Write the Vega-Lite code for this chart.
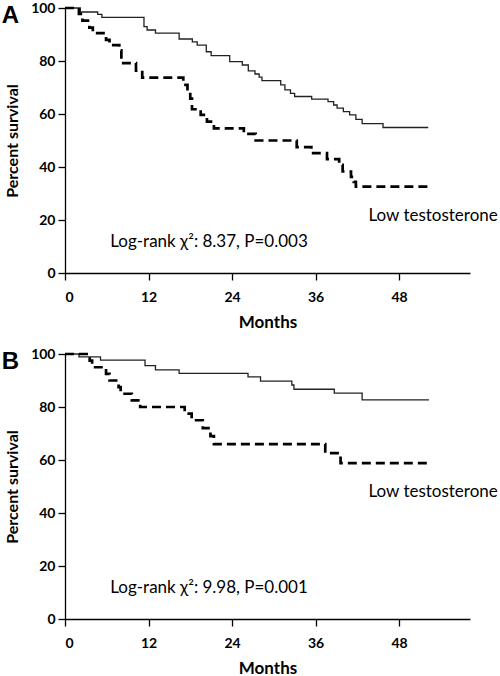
{
  "$schema": "https://vega.github.io/schema/vega-lite/v6.json",
  "padding": {"top": 1, "left": 1, "right": 0, "bottom": 0},
  "spacing": 17,
  "config": {
    "view": {"stroke": null},
    "font": "Lato",
    "axis": {
      "grid": false,
      "domainColor": "#000",
      "domainWidth": 1.3,
      "tickColor": "#000",
      "tickWidth": 1.3,
      "tickSize": 7,
      "labelColor": "#000",
      "labelFont": "Lato",
      "labelFontWeight": "bold",
      "labelFontSize": 14,
      "titleColor": "#000",
      "titleFont": "Lato",
      "titleFontWeight": "bold",
      "titleFontSize": 16
    },
    "title": {"anchor": "start", "frame": "bounds", "fontSize": 24, "fontWeight": "bold", "font": "Liberation Sans", "color": "#000", "baseline": "alphabetic", "offset": -27, "dx": -3}
  },
  "datasets": {
    "km": [
      {"panel": "A", "group": "Normal", "month": 0, "survival": 100},
      {"panel": "A", "group": "Normal", "month": 2.2, "survival": 98.5},
      {"panel": "A", "group": "Normal", "month": 4.7, "survival": 97.6},
      {"panel": "A", "group": "Normal", "month": 5.3, "survival": 96.5},
      {"panel": "A", "group": "Normal", "month": 11.35, "survival": 93.0},
      {"panel": "A", "group": "Normal", "month": 11.8, "survival": 91.7},
      {"panel": "A", "group": "Normal", "month": 13.0, "survival": 90.5},
      {"panel": "A", "group": "Normal", "month": 16.4, "survival": 88.3},
      {"panel": "A", "group": "Normal", "month": 18.3, "survival": 87.2},
      {"panel": "A", "group": "Normal", "month": 19.0, "survival": 86.0},
      {"panel": "A", "group": "Normal", "month": 20.3, "survival": 83.5},
      {"panel": "A", "group": "Normal", "month": 21.0, "survival": 82.0},
      {"panel": "A", "group": "Normal", "month": 23.67, "survival": 79.8},
      {"panel": "A", "group": "Normal", "month": 25.48, "survival": 78.5},
      {"panel": "A", "group": "Normal", "month": 26.34, "survival": 76.3},
      {"panel": "A", "group": "Normal", "month": 27.3, "survival": 75.1},
      {"panel": "A", "group": "Normal", "month": 27.9, "survival": 73.9},
      {"panel": "A", "group": "Normal", "month": 28.3, "survival": 72.6},
      {"panel": "A", "group": "Normal", "month": 31.0, "survival": 71.0},
      {"panel": "A", "group": "Normal", "month": 31.6, "survival": 69.1},
      {"panel": "A", "group": "Normal", "month": 32.4, "survival": 67.8},
      {"panel": "A", "group": "Normal", "month": 33.0, "survival": 66.6},
      {"panel": "A", "group": "Normal", "month": 35.45, "survival": 65.6},
      {"panel": "A", "group": "Normal", "month": 37.8, "survival": 64.7},
      {"panel": "A", "group": "Normal", "month": 38.6, "survival": 63.4},
      {"panel": "A", "group": "Normal", "month": 39.1, "survival": 62.2},
      {"panel": "A", "group": "Normal", "month": 40.0, "survival": 60.9},
      {"panel": "A", "group": "Normal", "month": 40.9, "survival": 59.7},
      {"panel": "A", "group": "Normal", "month": 41.8, "survival": 58.0},
      {"panel": "A", "group": "Normal", "month": 42.7, "survival": 56.4},
      {"panel": "A", "group": "Normal", "month": 45.7, "survival": 54.9},
      {"panel": "A", "group": "Normal", "month": 52.2, "survival": 54.9},
      {"panel": "A", "group": "Low", "month": 0, "survival": 100},
      {"panel": "A", "group": "Low", "month": 2.0, "survival": 97.8},
      {"panel": "A", "group": "Low", "month": 2.5, "survival": 95.2},
      {"panel": "A", "group": "Low", "month": 3.5, "survival": 92.6},
      {"panel": "A", "group": "Low", "month": 4.0, "survival": 90.5},
      {"panel": "A", "group": "Low", "month": 5.9, "survival": 88.0},
      {"panel": "A", "group": "Low", "month": 6.4, "survival": 86.0},
      {"panel": "A", "group": "Low", "month": 7.8, "survival": 84.0},
      {"panel": "A", "group": "Low", "month": 8.1, "survival": 79.2},
      {"panel": "A", "group": "Low", "month": 10.2, "survival": 76.4},
      {"panel": "A", "group": "Low", "month": 11.1, "survival": 73.7},
      {"panel": "A", "group": "Low", "month": 17.0, "survival": 71.0},
      {"panel": "A", "group": "Low", "month": 17.6, "survival": 68.4},
      {"panel": "A", "group": "Low", "month": 18.0, "survival": 65.8},
      {"panel": "A", "group": "Low", "month": 18.25, "survival": 61.8},
      {"panel": "A", "group": "Low", "month": 19.5, "survival": 59.7},
      {"panel": "A", "group": "Low", "month": 20.4, "survival": 57.1},
      {"panel": "A", "group": "Low", "month": 21.4, "survival": 54.6},
      {"panel": "A", "group": "Low", "month": 25.7, "survival": 52.5},
      {"panel": "A", "group": "Low", "month": 27.4, "survival": 50.0},
      {"panel": "A", "group": "Low", "month": 33.3, "survival": 47.5},
      {"panel": "A", "group": "Low", "month": 35.4, "survival": 45.2},
      {"panel": "A", "group": "Low", "month": 37.65, "survival": 43.0},
      {"panel": "A", "group": "Low", "month": 39.4, "survival": 40.8},
      {"panel": "A", "group": "Low", "month": 39.9, "survival": 38.3},
      {"panel": "A", "group": "Low", "month": 41.1, "survival": 36.3},
      {"panel": "A", "group": "Low", "month": 41.5, "survival": 34.4},
      {"panel": "A", "group": "Low", "month": 41.8, "survival": 32.6},
      {"panel": "A", "group": "Low", "month": 52.3, "survival": 32.6},
      {"panel": "B", "group": "Normal", "month": 0, "survival": 100},
      {"panel": "B", "group": "Normal", "month": 2.0, "survival": 98.9},
      {"panel": "B", "group": "Normal", "month": 5.1, "survival": 97.7},
      {"panel": "B", "group": "Normal", "month": 11.5, "survival": 95.6},
      {"panel": "B", "group": "Normal", "month": 13.0, "survival": 94.0},
      {"panel": "B", "group": "Normal", "month": 16.4, "survival": 92.7},
      {"panel": "B", "group": "Normal", "month": 26.3, "survival": 91.4},
      {"panel": "B", "group": "Normal", "month": 28.1, "survival": 89.8},
      {"panel": "B", "group": "Normal", "month": 32.6, "survival": 88.3},
      {"panel": "B", "group": "Normal", "month": 32.9, "survival": 86.7},
      {"panel": "B", "group": "Normal", "month": 38.7, "survival": 85.2},
      {"panel": "B", "group": "Normal", "month": 42.7, "survival": 82.7},
      {"panel": "B", "group": "Normal", "month": 52.3, "survival": 82.7},
      {"panel": "B", "group": "Low", "month": 0, "survival": 100},
      {"panel": "B", "group": "Low", "month": 3.55, "survival": 97.5},
      {"panel": "B", "group": "Low", "month": 3.9, "survival": 95.0},
      {"panel": "B", "group": "Low", "month": 5.9, "survival": 92.5},
      {"panel": "B", "group": "Low", "month": 6.4, "survival": 90.0},
      {"panel": "B", "group": "Low", "month": 7.7, "survival": 87.5},
      {"panel": "B", "group": "Low", "month": 8.0, "survival": 85.0},
      {"panel": "B", "group": "Low", "month": 9.6, "survival": 82.5},
      {"panel": "B", "group": "Low", "month": 10.8, "survival": 80.0},
      {"panel": "B", "group": "Low", "month": 17.2, "survival": 77.5},
      {"panel": "B", "group": "Low", "month": 18.2, "survival": 75.0},
      {"panel": "B", "group": "Low", "month": 19.8, "survival": 72.0},
      {"panel": "B", "group": "Low", "month": 20.9, "survival": 69.0},
      {"panel": "B", "group": "Low", "month": 21.4, "survival": 66.0},
      {"panel": "B", "group": "Low", "month": 37.4, "survival": 62.6},
      {"panel": "B", "group": "Low", "month": 39.6, "survival": 58.8},
      {"panel": "B", "group": "Low", "month": 52.3, "survival": 58.8}
    ]
  },
  "vconcat": [
    {
      "width": 405,
      "height": 265,
      "title": {"text": "A"},
      "layer": [
        {"data": {"name": "km"}, "transform": [{"filter": "datum.panel === 'A' && datum.group === 'Normal'"}], "mark": {"type": "line", "interpolate": "step-after", "color": "#222", "strokeWidth": 1.3},
         "encoding": {
           "x": {"field": "month", "type": "quantitative", "scale": {"domain": [0, 58.2], "nice": false}, "axis": {"values": [0, 12, 24, 36, 48], "title": "Months", "titleFontSize": 17, "labelPadding": 10, "titlePadding": 10}},
           "y": {"field": "survival", "type": "quantitative", "scale": {"domain": [0, 100], "nice": false}, "axis": {"values": [0, 20, 40, 60, 80, 100], "title": "Percent survival", "labelPadding": 3, "titlePadding": 10}}
         }},
        {"data": {"name": "km"}, "transform": [{"filter": "datum.panel === 'A' && datum.group === 'Low'"}], "mark": {"type": "line", "interpolate": "step-after", "color": "#000", "strokeWidth": 2.7, "strokeDash": [9, 5]},
         "encoding": {"x": {"field": "month", "type": "quantitative"}, "y": {"field": "survival", "type": "quantitative"}}},
        {"data": {"values": [{"note": "Low testosterone"}]}, "mark": {"type": "text", "align": "left", "baseline": "alphabetic", "fontSize": 17, "font": "Lato", "color": "#000"},
         "encoding": {"x": {"datum": 43.6, "type": "quantitative"}, "y": {"datum": 19.5, "type": "quantitative"}, "text": {"field": "note"}}},
        {"data": {"values": [{"note": "Log-rank χ²: 8.37, P=0.003"}]}, "mark": {"type": "text", "align": "left", "baseline": "alphabetic", "fontSize": 17, "font": "Lato", "color": "#000"},
         "encoding": {"x": {"datum": 6.5, "type": "quantitative"}, "y": {"datum": 10, "type": "quantitative"}, "text": {"field": "note"}}}
      ]
    },
    {
      "width": 405,
      "height": 265,
      "title": {"text": "B"},
      "layer": [
        {"data": {"name": "km"}, "transform": [{"filter": "datum.panel === 'B' && datum.group === 'Normal'"}], "mark": {"type": "line", "interpolate": "step-after", "color": "#222", "strokeWidth": 1.3},
         "encoding": {
           "x": {"field": "month", "type": "quantitative", "scale": {"domain": [0, 58.2], "nice": false}, "axis": {"values": [0, 12, 24, 36, 48], "title": "Months", "titleFontSize": 17, "labelPadding": 10, "titlePadding": 10}},
           "y": {"field": "survival", "type": "quantitative", "scale": {"domain": [0, 100], "nice": false}, "axis": {"values": [0, 20, 40, 60, 80, 100], "title": "Percent survival", "labelPadding": 3, "titlePadding": 10}}
         }},
        {"data": {"name": "km"}, "transform": [{"filter": "datum.panel === 'B' && datum.group === 'Low'"}], "mark": {"type": "line", "interpolate": "step-after", "color": "#000", "strokeWidth": 2.7, "strokeDash": [9, 5]},
         "encoding": {"x": {"field": "month", "type": "quantitative"}, "y": {"field": "survival", "type": "quantitative"}}},
        {"data": {"values": [{"note": "Low testosterone"}]}, "mark": {"type": "text", "align": "left", "baseline": "alphabetic", "fontSize": 17, "font": "Lato", "color": "#000"},
         "encoding": {"x": {"datum": 43.6, "type": "quantitative"}, "y": {"datum": 46.0, "type": "quantitative"}, "text": {"field": "note"}}},
        {"data": {"values": [{"note": "Log-rank χ²: 9.98, P=0.001"}]}, "mark": {"type": "text", "align": "left", "baseline": "alphabetic", "fontSize": 17, "font": "Lato", "color": "#000"},
         "encoding": {"x": {"datum": 6.5, "type": "quantitative"}, "y": {"datum": 9.8, "type": "quantitative"}, "text": {"field": "note"}}}
      ]
    }
  ]
}
